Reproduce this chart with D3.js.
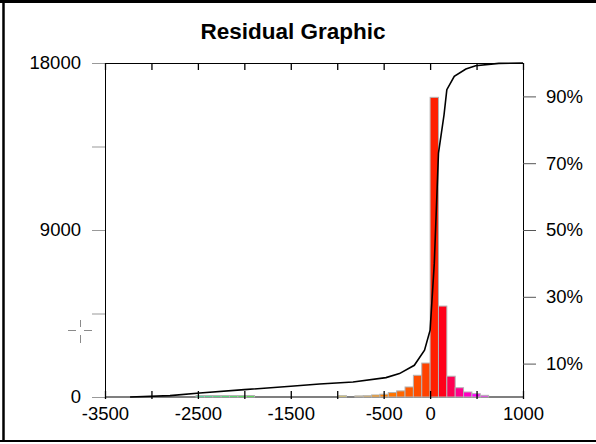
<!DOCTYPE html>
<html>
<head>
<meta charset="utf-8">
<script src="https://cdn.jsdelivr.net/npm/d3@7"></script>
<style>
  html, body { margin: 0; padding: 0; background: #fff; }
  svg { display: block; font-family: "Liberation Sans", Arial, sans-serif; }
</style>
</head>
<body>
<svg id="chart" width="596" height="444"></svg>
<script>
// Histogram bins: lower edge of each bin (width 90) and the count in it
const binWidth = 90;
const binStarts = d3.range(-3240, 900, binWidth);
const binCounts = [
  0, 0, 0, 0, 0, 0, 0, 0,            // -3240 .. -2610
  80, 80, 80, 80, 80, 80, 80,        // -2520 .. -1980
  0, 0, 0, 0, 0, 0, 0, 0, 0, 0,      // -1890 .. -1080
  70, 0,                             // -990, -900
  60, 70, 110, 150, 240, 330, 540,   // -810 .. -270
  1170, 1830,                        // -180, -90
  16150, 4900, 1120, 500, 270, 180, 90, // 0 .. 540
  0, 0, 0                            // 630 .. 810
];

// Cumulative curve (right axis, %)
const cumX = [-3230, -2800, -2480, -2000, -1500, -1190, -830, -475, -330, -170, -60, 0, 45, 90, 150, 180, 260, 385, 490, 740, 1000];
const cumPct = [0, 0.4, 1.2, 2.2, 3.2, 3.9, 4.5, 5.8, 7.0, 9.5, 14, 20, 40, 73, 84.5, 92, 96, 98.2, 99.2, 99.9, 100];

// Axis ticks and labels
const xTicks = d3.range(-3500, 1001, 500);
const xLabels = [-3500, -2500, -1500, -500, 0, 1000];
const yTicks = [0, 4500, 9000, 13500, 18000];
const yLabels = [0, 9000, 18000];
const pctTicks = [10, 30, 50, 70, 90];

const title = 'Residual Graphic';

const margin = {top: 63, right: 73, bottom: 47, left: 105};
const width = 596 - margin.left - margin.right;
const height = 444 - margin.top - margin.bottom;

const svg = d3.select('#chart');

// window frame
svg.append('line').attr('x1', 0).attr('x2', 596).attr('y1', 1.5).attr('y2', 1.5)
  .attr('stroke', '#000').attr('stroke-width', 3);
svg.append('line').attr('x1', 3.5).attr('x2', 3.5).attr('y1', 0).attr('y2', 442)
  .attr('stroke', '#000').attr('stroke-width', 2.5);
svg.append('line').attr('x1', 0).attr('x2', 596).attr('y1', 441).attr('y2', 441)
  .attr('stroke', '#000').attr('stroke-width', 2);

svg.append('text')
  .attr('x', 293).attr('y', 39)
  .attr('text-anchor', 'middle')
  .attr('font-size', 22.5).attr('font-weight', 'bold')
  .text(title);

const g = svg.append('g').attr('transform', `translate(${margin.left},${margin.top})`);

const x = d3.scaleLinear().domain([-3500, 1000]).range([0, width]);
const y = d3.scaleLinear().domain([0, 18000]).range([height, 0]);
const yPct = d3.scaleLinear().domain([0, 100]).range([height, 0]);

// bar colour by bin centre
const hue = d3.scaleLinear()
  .domain([-2500, -1950, -950, -500, 0, 500])
  .range([155, 120, 50, 30, 14, -60])
  .clamp(true);

// bottom axis line (bars drawn on top of it)
g.append('line').attr('x1', 0).attr('x2', width).attr('y1', height).attr('y2', height)
  .attr('stroke', '#000').attr('stroke-width', 1.2);

// bars
g.append('g').selectAll('rect')
  .data(binStarts.map((s, i) => ({s, c: binCounts[i]})))
  .join('rect')
  .attr('x', d => x(d.s))
  .attr('width', d => x(d.s + binWidth) - x(d.s))
  .attr('y', d => y(d.c))
  .attr('height', d => height - y(d.c))
  .attr('fill', d => d3.hsl(hue(d.s + binWidth / 2), 1, 0.5))
  .attr('stroke', '#b4b4b4')
  .attr('stroke-width', 1);

// cumulative line
g.append('path')
  .datum(cumX.map((v, i) => [v, cumPct[i]]))
  .attr('fill', 'none')
  .attr('stroke', '#000')
  .attr('stroke-width', 1.6)
  .attr('d', d3.line().x(d => x(d[0])).y(d => yPct(d[1])));

// left axis
const yAxisG = g.append('g')
  .call(d3.axisLeft(y).tickValues(yTicks).tickSize(13).tickSizeOuter(0).tickPadding(11)
    .tickFormat(d => yLabels.includes(d) ? d : ''));
yAxisG.select('.domain').attr('stroke', '#000');
yAxisG.selectAll('.tick line').attr('stroke', '#999');

// right axis
const rAxisG = g.append('g')
  .attr('transform', `translate(${width},0)`)
  .call(d3.axisRight(yPct).tickValues(pctTicks).tickSize(13).tickSizeOuter(0).tickPadding(10)
    .tickFormat(d => d + '%'));
rAxisG.selectAll('.tick line').attr('stroke', '#555');

// top axis, ticks pointing in
const tAxisG = g.append('g')
  .call(d3.axisTop(x).tickValues(xTicks).tickSize(-7).tickSizeOuter(0).tickFormat(''));

// bottom axis ticks and labels
const bAxisG = g.append('g')
  .attr('transform', `translate(0,${height})`)
  .call(d3.axisBottom(x).tickValues(xTicks).tickSize(-6).tickSizeOuter(0).tickPadding(10)
    .tickFormat(d => xLabels.includes(d) ? d : ''));
bAxisG.select('.domain').remove();
bAxisG.selectAll('.tick line').attr('y1', 2).attr('stroke-width', 1.3);
tAxisG.selectAll('.tick line').attr('stroke-width', 1.3);

svg.selectAll('.tick text').attr('font-size', 18.5).attr('fill', '#000')
  .attr('font-family', '"Liberation Sans", Arial, sans-serif');

// mouse crosshair left in the screenshot
const ch = svg.append('g').attr('stroke', '#8a8a8a').attr('stroke-width', 1);
[[68, 76], [84, 92]].forEach(([a, b]) =>
  ch.append('line').attr('x1', a).attr('x2', b).attr('y1', 330.5).attr('y2', 330.5));
[[320, 327], [335, 343]].forEach(([a, b]) =>
  ch.append('line').attr('x1', 80.5).attr('x2', 80.5).attr('y1', a).attr('y2', b));
</script>
</body>
</html>
